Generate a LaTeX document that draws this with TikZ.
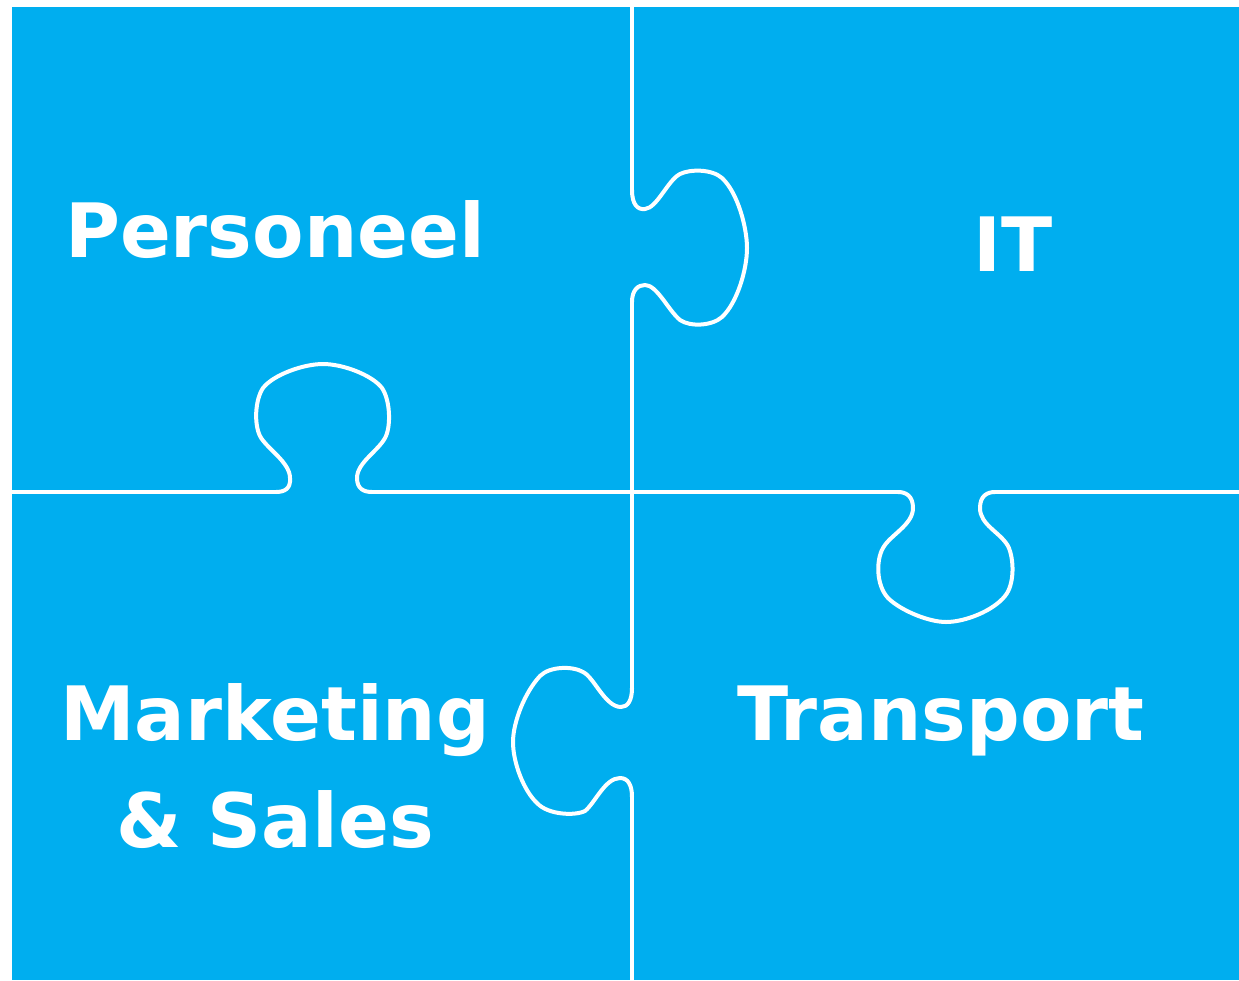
\documentclass[tikz,border=0pt]{standalone}
\usepackage{fontspec}
\newfontfamily\labelfont[BoldFont={DejaVu Sans Bold}]{DejaVu Sans}
\definecolor{puzzleblue}{HTML}{00AEEF}
\begin{document}
\begin{tikzpicture}[x=1pt,y=-1pt,
  seam/.style={draw=white,line width=4pt},
  tabline/.style={draw=white,line width=4pt,line join=round},
  piecelabel/.style={text=white,anchor=base,inner sep=0pt,font=\labelfont\bfseries\fontsize{75}{90}\selectfont}]
\useasboundingbox (0,0) rectangle (1239,980);
\fill[puzzleblue] (12,7) rectangle (1239,980);
% straight seams
\draw[seam] (632,7) -- (632,190);
\draw[seam] (632,302) -- (632,688);
\draw[seam] (632,797) -- (632,980);
\draw[seam] (12,492) -- (276,492);
\draw[seam] (372,492) -- (898,492);
\draw[seam] (995,492) -- (1239,492);
% tab: Personeel into IT
\draw[tabline] (632,190) .. controls (632,205) and (638,210) .. (645,209)
  .. controls (657,208) and (668,180) .. (680,174)
  .. controls (690,169) and (712,169) .. (722,178)
  .. controls (738,193) and (747,228) .. (747,248)
  .. controls (747,270) and (737,303) .. (722,317)
  .. controls (712,326) and (690,327) .. (680,320)
  .. controls (668,310) and (657,285) .. (645,285)
  .. controls (638,285) and (632,290) .. (632,302);
% tab: Marketing into Personeel
\draw[tabline] (276,492) .. controls (284,492) and (291,489) .. (290,478)
  .. controls (290,462) and (266,448) .. (260,436)
  .. controls (254,424) and (255,400) .. (263,388)
  .. controls (273,375) and (303,364) .. (323,364)
  .. controls (343,364) and (372,375) .. (382,388)
  .. controls (390,400) and (391,424) .. (386,436)
  .. controls (380,450) and (357,462) .. (357,478)
  .. controls (357,489) and (364,492) .. (372,492);
% tab: IT into Transport
\draw[tabline] (898,492) .. controls (906,492) and (913,496) .. (913,508)
  .. controls (913,525) and (890,535) .. (883,548)
  .. controls (876,560) and (876,585) .. (888,598)
  .. controls (900,610) and (928,622) .. (946,622)
  .. controls (965,622) and (993,611) .. (1005,596)
  .. controls (1015,584) and (1014,558) .. (1008,546)
  .. controls (1000,532) and (980,525) .. (980,508)
  .. controls (980,496) and (987,492) .. (995,492);
% tab: Transport into Marketing
\draw[tabline] (632,688) .. controls (632,700) and (628,707) .. (621,707)
  .. controls (605,707) and (594,677) .. (583,672)
  .. controls (573,666) and (550,666) .. (540,676)
  .. controls (525,692) and (513,722) .. (513,742)
  .. controls (513,763) and (524,791) .. (537,803)
  .. controls (548,815) and (575,816) .. (585,811)
  .. controls (595,803) and (605,778) .. (620,778)
  .. controls (628,778) and (632,785) .. (632,797);
% labels
\node[piecelabel] (personeel) at (275,257) {Personeel};
\node[piecelabel] (it) at (1013,271) {IT};
\node[piecelabel] (marketing) at (275,740) {Marketing};
\node[piecelabel] (sales) at (275,847) {\& Sales};
\node[piecelabel] (transport) at (941,740) {Transport};
\end{tikzpicture}
\end{document}
